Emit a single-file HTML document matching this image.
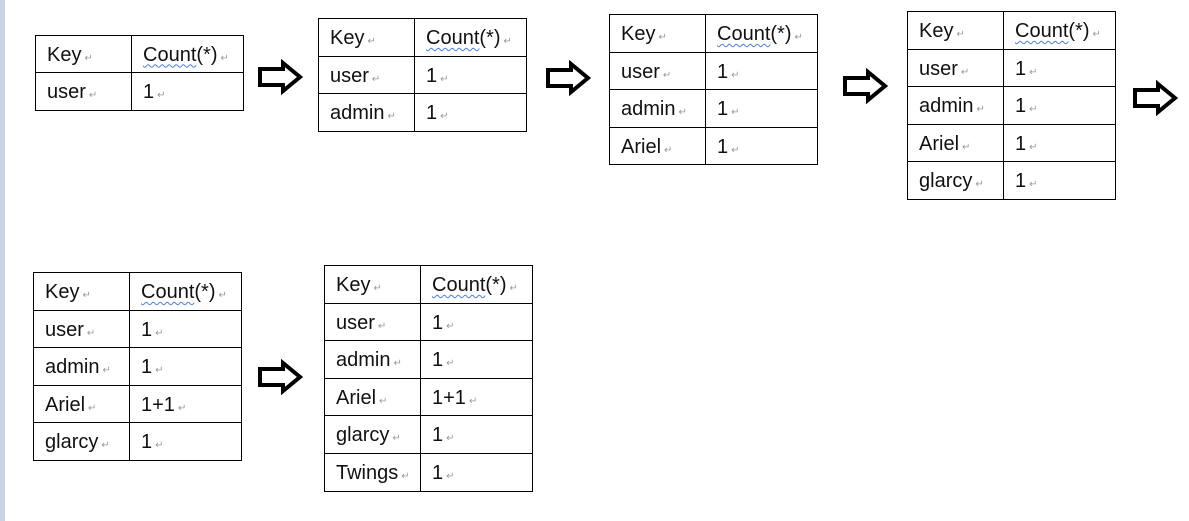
<!DOCTYPE html>
<html><head><meta charset="utf-8"><style>
body{margin:0;width:1189px;height:521px;background:#fff;position:relative;overflow:hidden;font-family:"Liberation Sans",sans-serif;}
.bar{position:absolute;left:0;top:0;width:5px;height:521px;background:#c9d3e3;}
table{position:absolute;border-collapse:collapse;table-layout:fixed;}
td{border:1px solid #000;padding:2px 0 0 11px;font-size:20px;color:#111;white-space:nowrap;box-sizing:border-box;}
td.k{width:96px}td.v{width:112px}
.r{color:#999;font-size:10px;margin-left:3px;}
.w{text-decoration:underline wavy #4a7fd8;text-decoration-thickness:1px;text-underline-offset:3px;}
svg{position:absolute;}
</style></head><body>
<div class="bar"></div>

<table style="left:35px;top:35px"><tr style="height:37px"><td class="k">Key<span class="r">↵</span></td><td class="v"><span class="w">Count</span>(*)<span class="r">↵</span></td></tr><tr style="height:38px"><td class="k">user<span class="r">↵</span></td><td class="v">1<span class="r">↵</span></td></tr></table>

<table style="left:318px;top:18px"><tr style="height:38px"><td class="k">Key<span class="r">↵</span></td><td class="v"><span class="w">Count</span>(*)<span class="r">↵</span></td></tr><tr style="height:37px"><td class="k">user<span class="r">↵</span></td><td class="v">1<span class="r">↵</span></td></tr><tr style="height:38px"><td class="k">admin<span class="r">↵</span></td><td class="v">1<span class="r">↵</span></td></tr></table>

<table style="left:609px;top:14px"><tr style="height:38px"><td class="k">Key<span class="r">↵</span></td><td class="v"><span class="w">Count</span>(*)<span class="r">↵</span></td></tr><tr style="height:37px"><td class="k">user<span class="r">↵</span></td><td class="v">1<span class="r">↵</span></td></tr><tr style="height:38px"><td class="k">admin<span class="r">↵</span></td><td class="v">1<span class="r">↵</span></td></tr><tr style="height:37px"><td class="k">Ariel<span class="r">↵</span></td><td class="v">1<span class="r">↵</span></td></tr></table>

<table style="left:907px;top:11px"><tr style="height:38px"><td class="k">Key<span class="r">↵</span></td><td class="v"><span class="w">Count</span>(*)<span class="r">↵</span></td></tr><tr style="height:37px"><td class="k">user<span class="r">↵</span></td><td class="v">1<span class="r">↵</span></td></tr><tr style="height:38px"><td class="k">admin<span class="r">↵</span></td><td class="v">1<span class="r">↵</span></td></tr><tr style="height:37px"><td class="k">Ariel<span class="r">↵</span></td><td class="v">1<span class="r">↵</span></td></tr><tr style="height:38px"><td class="k">glarcy<span class="r">↵</span></td><td class="v">1<span class="r">↵</span></td></tr></table>

<table style="left:33px;top:272px"><tr style="height:38px"><td class="k">Key<span class="r">↵</span></td><td class="v"><span class="w">Count</span>(*)<span class="r">↵</span></td></tr><tr style="height:37px"><td class="k">user<span class="r">↵</span></td><td class="v">1<span class="r">↵</span></td></tr><tr style="height:38px"><td class="k">admin<span class="r">↵</span></td><td class="v">1<span class="r">↵</span></td></tr><tr style="height:37px"><td class="k">Ariel<span class="r">↵</span></td><td class="v">1+1<span class="r">↵</span></td></tr><tr style="height:38px"><td class="k">glarcy<span class="r">↵</span></td><td class="v">1<span class="r">↵</span></td></tr></table>

<table style="left:324px;top:265px"><tr style="height:38px"><td class="k">Key<span class="r">↵</span></td><td class="v"><span class="w">Count</span>(*)<span class="r">↵</span></td></tr><tr style="height:37px"><td class="k">user<span class="r">↵</span></td><td class="v">1<span class="r">↵</span></td></tr><tr style="height:38px"><td class="k">admin<span class="r">↵</span></td><td class="v">1<span class="r">↵</span></td></tr><tr style="height:37px"><td class="k">Ariel<span class="r">↵</span></td><td class="v">1+1<span class="r">↵</span></td></tr><tr style="height:38px"><td class="k">glarcy<span class="r">↵</span></td><td class="v">1<span class="r">↵</span></td></tr><tr style="height:38px"><td class="k">Twings<span class="r">↵</span></td><td class="v">1<span class="r">↵</span></td></tr></table>

<svg width="1189" height="521" style="left:0;top:0">
<defs><polygon id="a" points="2,8 25,8 25,2 42,16 25,30 25,24 2,24" fill="#fff" stroke="#000" stroke-width="4" stroke-linejoin="miter"/></defs>
<use href="#a" x="258" y="61"/>
<use href="#a" x="546" y="62"/>
<use href="#a" x="843" y="70"/>
<use href="#a" x="1133" y="82"/>
<use href="#a" x="258" y="361"/>
</svg>
</body></html>
